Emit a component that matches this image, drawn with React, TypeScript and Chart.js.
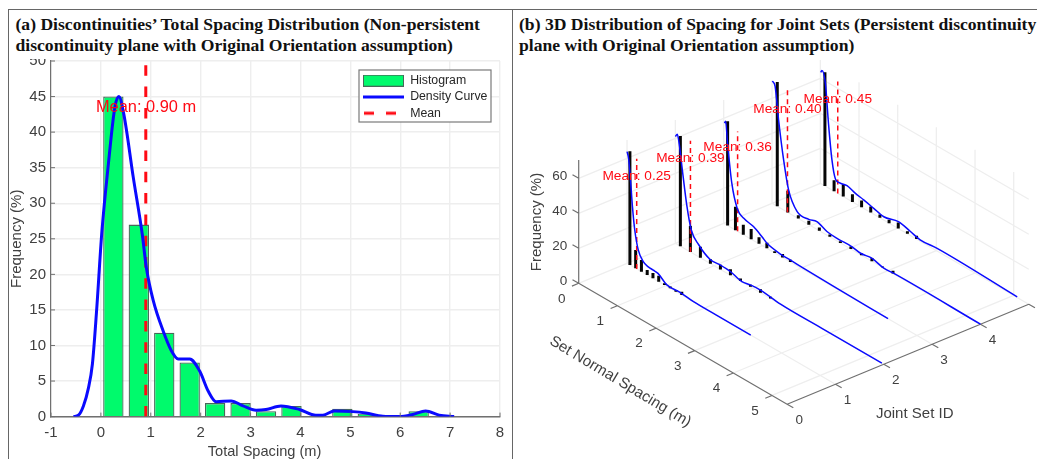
import React, { useEffect, useRef } from "react";
import { Chart, registerables } from "chart.js";

Chart.register(...registerables);

// ---- Panel (a) data ----
const binCenters = [0.25, 0.76, 1.27, 1.78, 2.29, 2.8, 3.31, 3.82, 4.84, 5.35, 6.37];
const binFrequency = [45, 27, 11.8, 7.6, 1.9, 1.9, 0.75, 1.5, 1.1, 0.4, 0.75];
const densityX = [-0.55, -0.45, -0.35, -0.25, -0.17, -0.09, 0.02, 0.15, 0.28, 0.36, 0.46, 0.65, 0.83, 0.91, 1.05, 1.25, 1.41, 1.55, 1.78, 1.98, 2.15, 2.31, 2.61, 2.85, 3.11, 3.31, 3.61, 3.98, 4.31, 4.45, 4.68, 5.05, 5.31, 5.65, 5.98, 6.25, 6.51, 6.78, 7.08];
const densityY = [0, 0.2, 1.5, 4, 7.4, 14.5, 26, 35.5, 43.5, 45, 42.5, 33.6, 25.6, 21, 16.3, 12, 9.3, 8.1, 8.1, 6.4, 3.6, 2.1, 2.2, 1.5, 0.9, 1, 1.5, 1, 0.2, 0.2, 0.8, 0.7, 0.5, 0.05, 0, 0.3, 0.8, 0.2, 0];
const totalMean = 0.9;
const legendLabels = ["Histogram", "Density Curve", "Mean"];

// ---- Panel (b) data ----
const setIds = [1, 2, 3, 4, 5];
const setMeans = [0.25, 0.39, 0.36, 0.4, 0.45];
const setMeanHeights = [63, 63.6, 57, 70, 64];
const setBinWidths = [0.149, 0.259, 0.203, 0.272, 0.237];
const setBars = [
  [65, 10.5, 6.7, 2.9, 3, 3.4, 1, 1, 1, 1.9],
  [63, 15, 6.3, 2.5, 2.7, 3.4, 1.5, 1.2, 1.9, 1],
  [59.6, 13.3, 5.7, 5.9, 3.8, 3.2, 1, 1.9, 1.3],
  [71, 12.4, 1.9, 2.3, 1.9, 1.3, 1, 1.5, 1, 1.9, 0.5, 1.5],
  [65, 6.3, 7, 4.4, 3.8, 3.4, 1.9, 1.9, 3.4, 1.5, 1.9],
];
const curveS = [
  [0, 0.04, 0.09, 0.14, 0.2, 0.29, 0.42, 0.55, 0.68, 0.8, 1.03, 1.37, 1.72, 2.3, 3.2],
  [0, 0.05, 0.1, 0.17, 0.3, 0.41, 0.6, 0.9, 1.16, 1.42, 1.72, 1.94, 2.2, 2.72, 3.8, 5.34],
  [0.02, 0.05, 0.1, 0.21, 0.35, 0.52, 0.77, 0.99, 1.12, 1.5, 1.72, 2.06, 2.93, 4.25],
  [0.01, 0.08, 0.17, 0.3, 0.43, 0.65, 0.95, 1.16, 1.42, 1.68, 2.07, 2.29, 2.58, 2.89, 3.14, 5.39],
  [0.01, 0.04, 0.13, 0.21, 0.3, 0.39, 0.52, 0.69, 0.9, 1.12, 1.38, 1.64, 2.02, 2.33, 2.58, 3.02, 5.09],
];
const curveF = [
  [63.8, 60.5, 48.8, 34.2, 21.6, 11.4, 6.3, 5, 4.8, 4.5, 0.9, 1, 0.1, 0, 0],
  [61, 63, 58, 46, 24.9, 13, 7, 2.3, 2.5, 2.1, 0.2, 1.1, 1.5, 0.1, 0, 0],
  [57.5, 59, 47, 25.6, 13, 9.5, 8, 5, 2.9, 1.2, 1.1, 0.8, 0.4, 0],
  [70, 67.8, 49.8, 28.6, 13, 3.6, 3, 4.4, 2.1, 1.5, 1.7, 0.8, 1.7, 0, 0.3, 0],
  [63.5, 65, 58.9, 37, 17.2, 7.5, 6.7, 7.5, 5.9, 4.9, 3.4, 1.9, 4, 2.3, 0.8, 1.5, 0.3],
];
const freqTicks = [0, 20, 40, 60];
const spacingTicks = [0, 1, 2, 3, 4, 5];
const setTicks = [0, 1, 2, 3, 4, 5];
const setTickLabels = [0, 1, 2, 3, 4];
const freqMax = 70.5;
const spacingMax = 5.39;
const setMax = 5;

const SANS = '"Liberation Sans", Arial, sans-serif';
const GRID = "#eeeeee";
const AXIS = "#707070";
const TEXT = "#404040";
const GREEN = "#00fa6c";
const BAR_EDGE = "#47695a";
const BLUE = "#0a0aff";
const RED = "#ff0a14";

const A_W = 502;
const H = 400;
const B_W = 524;

function swatch(draw: (c: CanvasRenderingContext2D) => void) {
  const cv = document.createElement("canvas");
  cv.width = 41;
  cv.height = 12;
  draw(cv.getContext("2d") as CanvasRenderingContext2D);
  return cv;
}

function buildPanelA(canvas: HTMLCanvasElement) {
  const swatches = [
    swatch((c) => {
      c.fillStyle = GREEN;
      c.fillRect(0, 0, 41, 12);
      c.strokeStyle = BAR_EDGE;
      c.strokeRect(0.5, 0.5, 40, 11);
    }),
    swatch((c) => {
      c.strokeStyle = BLUE;
      c.lineWidth = 3;
      c.beginPath();
      c.moveTo(0, 6);
      c.lineTo(41, 6);
      c.stroke();
    }),
    swatch((c) => {
      c.strokeStyle = RED;
      c.lineWidth = 3;
      c.setLineDash([10, 12]);
      c.beginPath();
      c.moveTo(1, 6);
      c.lineTo(41, 6);
      c.stroke();
    }),
  ];
  const box = { left: 350, top: 11, width: 132, height: 52 };
  const overlay = {
    id: "panelAOverlay",
    afterLayout(chart: any) {
      const l = chart.legend;
      l.left = box.left;
      l.right = box.left + box.width;
      l.top = box.top + 0.5;
      l.bottom = box.top + box.height + 20;
    },
    afterDatasetsDraw(chart: any) {
      const { ctx, scales } = chart;
      const l = chart.legend;
      ctx.save();
      ctx.fillStyle = "#ffffff";
      ctx.fillRect(box.left, box.top, box.width, box.height);
      ctx.strokeStyle = "#7a7a7a";
      ctx.lineWidth = 1.2;
      ctx.strokeRect(box.left, box.top, box.width, box.height);
      ctx.restore();
      l.draw();
      ctx.save();
      ctx.strokeStyle = AXIS;
      ctx.lineWidth = 1;
      ctx.beginPath();
      scales.x.ticks.forEach((t: any) => {
        const px = scales.x.getPixelForValue(t.value);
        ctx.moveTo(px, scales.y.bottom);
        ctx.lineTo(px, scales.y.bottom - 4);
      });
      scales.y.ticks.forEach((t: any) => {
        const py = scales.y.getPixelForValue(t.value);
        ctx.moveTo(scales.x.left, py);
        ctx.lineTo(scales.x.left + 4, py);
      });
      ctx.stroke();
      ctx.fillStyle = RED;
      ctx.font = `16.4px ${SANS}`;
      ctx.textAlign = "left";
      ctx.textBaseline = "middle";
      ctx.fillText(`Mean: ${totalMean.toFixed(2)} m`, scales.x.getPixelForValue(-0.1), scales.y.getPixelForValue(43.4));
      ctx.fillStyle = TEXT;
      ctx.font = `14.6px ${SANS}`;
      ctx.textAlign = "center";
      ctx.fillText("Total Spacing (m)", scales.x.getPixelForValue(3.28), H - 7);
      ctx.restore();
    },
  };
  return new Chart(canvas, {
    type: "bar",
    data: {
      datasets: [
        {
          type: "line",
          label: legendLabels[1],
          data: densityX.map((x, i) => ({ x, y: densityY[i] })),
          borderColor: BLUE,
          borderWidth: 3,
          pointRadius: 0,
          cubicInterpolationMode: "monotone",
          order: 0,
        },
        {
          type: "line",
          label: legendLabels[2],
          data: [
            { x: totalMean, y: 0 },
            { x: totalMean, y: 49.5 },
          ],
          borderColor: RED,
          borderWidth: 3,
          borderDash: [10.5, 10.8],
          pointRadius: 0,
          order: 1,
        },
        {
          type: "bar",
          label: legendLabels[0],
          data: binCenters.map((x, i) => ({ x, y: binFrequency[i] })),
          backgroundColor: GREEN,
          borderColor: BAR_EDGE,
          borderWidth: 1.3,
          barPercentage: 0.8,
          categoryPercentage: 1,
          order: 2,
        },
      ],
    } as any,
    options: {
      responsive: false,
      animation: false,
      events: [],
      layout: { padding: { top: 2, right: 11, left: 0, bottom: 0 } },
      plugins: {
        tooltip: { enabled: false },
        legend: {
          position: "chartArea",
          align: "start",
          labels: {
            usePointStyle: true,
            pointStyleWidth: 41,
            boxHeight: 12,
            padding: 4,
            color: "#262626",
            font: { family: SANS, size: 12.3 },
            generateLabels: () =>
              legendLabels.map((text, i) => ({
                text,
                pointStyle: swatches[i],
                fontColor: "#262626",
                hidden: false,
                datasetIndex: i,
              })),
          },
        } as any,
      },
      scales: {
        x: {
          type: "linear",
          offset: false,
          min: -1,
          max: 8,
          grid: { color: GRID, lineWidth: 1.4, drawTicks: false, offset: false },
          border: { color: AXIS, width: 1.4 },
          ticks: { stepSize: 1, padding: 7.5, color: TEXT, font: { family: SANS, size: 15 }, maxRotation: 0 },
          afterFit(s: any) {
            s.height = 42.4;
            s.paddingLeft = 0;
            s.paddingRight = 0;
          },
        },
        y: {
          min: 0,
          max: 50,
          grid: { color: GRID, lineWidth: 1.4, drawTicks: false },
          border: { color: AXIS, width: 1.2 },
          ticks: { stepSize: 5, padding: 5, color: TEXT, font: { family: SANS, size: 15 } },
          title: { display: true, text: "Frequency (%)", color: TEXT, font: { family: SANS, size: 15, lineHeight: 1 }, padding: 0 },
          afterFit(s: any) {
            s.width = 42;
            s.paddingTop = 0;
            s.paddingBottom = 0;
          },
        },
      },
    } as any,
    plugins: [overlay],
  });
}

// Orthographic view of (set id, spacing, frequency) into the hidden x/y scales.
const view = { ox: 65.7, oy: 224.3, sx: 38.67, sy: 22.43, jx: 48.33, jy: -20, fy: 1.75 };
function project(j: number, s: number, f: number) {
  return { x: view.ox + view.sx * s + view.jx * j, y: view.oy + view.sy * s + view.jy * j - view.fy * f };
}
const GAP = { x: NaN, y: NaN };

function gridSegments() {
  const pts: any[] = [];
  const seg = (a: number[], b: number[]) => {
    pts.push(project(a[0], a[1], a[2]), project(b[0], b[1], b[2]), GAP);
  };
  freqTicks.forEach((f) => {
    seg([0, 0, f], [setMax, 0, f]);
    seg([setMax, 0, f], [setMax, spacingMax, f]);
  });
  setTicks.forEach((j) => {
    if (j > 0) {
      seg([j, 0, 0], [j, 0, freqMax]);
      seg([j, 0, 0], [j, spacingMax, 0]);
    }
  });
  spacingTicks.forEach((s) => {
    if (s > 0) {
      seg([0, s, 0], [setMax, s, 0]);
      seg([setMax, s, 0], [setMax, s, freqMax]);
    }
  });
  return pts;
}

function axisSegments() {
  const pts: any[] = [];
  const seg = (a: number[], b: number[]) => {
    pts.push(project(a[0], a[1], a[2]), project(b[0], b[1], b[2]), GAP);
  };
  seg([0, 0, 0], [0, 0, freqMax]);
  seg([0, 0, 0], [0, spacingMax, 0]);
  seg([0, spacingMax, 0], [setMax, spacingMax, 0]);
  freqTicks.forEach((f) => seg([0, 0, f], [0, -0.16, f]));
  spacingTicks.forEach((s) => seg([0, s, 0], [-0.14, s, 0]));
  setTicks.forEach((j) => seg([j, spacingMax, 0], [j, spacingMax + 0.16, 0]));
  return pts;
}

function buildPanelB(canvas: HTMLCanvasElement) {
  const datasets: any[] = [];
  setIds.forEach((j, i) => {
    datasets.push({
      label: `Density Set ${j}`,
      data: curveS[i].map((s, k) => project(j, s, curveF[i][k])),
      borderColor: BLUE,
      borderWidth: 1.5,
      pointRadius: 0,
      showLine: true,
      cubicInterpolationMode: "monotone",
      order: 10 - j,
    });
  });
  setIds.forEach((j, i) => {
    datasets.push({
      label: `Mean Set ${j}`,
      data: [project(j, setMeans[i], 0), project(j, setMeans[i], setMeanHeights[i])],
      borderColor: RED,
      borderWidth: 1.5,
      borderDash: [5, 4],
      pointRadius: 0,
      showLine: true,
      order: 30 - j,
    });
  });
  setIds.forEach((j, i) => {
    const pts: any[] = [];
    setBars[i].forEach((h, k) => {
      const s = setBinWidths[i] * (k + 0.5);
      pts.push(project(j, s, 0), project(j, s, h), GAP);
    });
    datasets.push({
      label: `Histogram Set ${j}`,
      data: pts,
      borderColor: "#050505",
      borderWidth: 3,
      pointRadius: 0,
      showLine: true,
      spanGaps: false,
      order: 50 - j,
    });
  });
  datasets.push({
    label: "Axes",
    data: axisSegments(),
    borderColor: AXIS,
    borderWidth: 1.2,
    pointRadius: 0,
    showLine: true,
    spanGaps: false,
    order: 90,
  });
  datasets.push({
    label: "Grid",
    data: gridSegments(),
    borderColor: GRID,
    borderWidth: 1.3,
    pointRadius: 0,
    showLine: true,
    spanGaps: false,
    order: 100,
  });

  const overlay = {
    id: "panelBOverlay",
    afterDatasetsDraw(chart: any) {
      const { ctx, scales } = chart;
      const at = (j: number, s: number, f: number) => {
        const p = project(j, s, f);
        return { x: scales.x.getPixelForValue(p.x), y: scales.y.getPixelForValue(p.y) };
      };
      ctx.save();
      ctx.textBaseline = "middle";
      ctx.textAlign = "center";
      ctx.fillStyle = RED;
      ctx.font = `13.7px ${SANS}`;
      setIds.forEach((j, i) => {
        const p = at(j, setMeans[i], setMeanHeights[i] * 0.84);
        ctx.fillText(`Mean: ${setMeans[i].toFixed(2)}`, p.x, p.y);
      });
      ctx.fillStyle = TEXT;
      ctx.font = `13.5px ${SANS}`;
      freqTicks.forEach((f) => {
        const p = at(0, 0, f);
        ctx.textAlign = "right";
        ctx.fillText(String(f), p.x - 11.5, p.y - 2.5);
      });
      ctx.textAlign = "center";
      spacingTicks.forEach((s) => {
        const p = at(0, s, 0);
        ctx.fillText(String(s), p.x - 17, p.y + 15.5);
      });
      setTickLabels.forEach((j) => {
        const p = at(j, spacingMax, 0);
        ctx.fillText(String(j), p.x + 12, p.y + 16);
      });
      ctx.font = `15px ${SANS}`;
      ctx.fillText("Joint Set ID", 914.7 - 513, 413.5 - 59);
      ctx.save();
      ctx.translate(537 - 513, 222 - 59);
      ctx.rotate(-Math.PI / 2);
      ctx.fillText("Frequency (%)", 0, 0);
      ctx.restore();
      ctx.save();
      ctx.translate(620.3 - 513, 381.7 - 59);
      ctx.rotate((31 * Math.PI) / 180);
      ctx.font = `15.2px ${SANS}`;
      ctx.fillText("Set Normal Spacing (m)", 0, 0);
      ctx.restore();
      ctx.restore();
    },
  };

  return new Chart(canvas, {
    type: "scatter",
    data: { datasets },
    options: {
      responsive: false,
      animation: false,
      events: [],
      layout: { padding: 0 },
      plugins: { legend: { display: false }, tooltip: { enabled: false } },
      scales: {
        x: { type: "linear", min: 0, max: B_W, display: false },
        y: { type: "linear", min: 0, max: H, reverse: true, display: false },
      },
    } as any,
    plugins: [overlay],
  });
}

const titleStyle: React.CSSProperties = {
  position: "absolute",
  whiteSpace: "nowrap",
  fontFamily: '"Liberation Serif", "Times New Roman", serif',
  fontWeight: "bold",
  fontSize: 17.6,
  lineHeight: "21px",
  color: "#111",
};
const rule = (l: number, t: number, w: number, h: number): React.CSSProperties => ({
  position: "absolute",
  left: l,
  top: t,
  width: w,
  height: h,
  background: "#666",
});

export default function App() {
  const a = useRef<HTMLCanvasElement>(null);
  const b = useRef<HTMLCanvasElement>(null);
  useEffect(() => {
    const ca = buildPanelA(a.current as HTMLCanvasElement);
    const cb = buildPanelB(b.current as HTMLCanvasElement);
    return () => {
      ca.destroy();
      cb.destroy();
    };
  }, []);
  return (
    <div style={{ position: "fixed", left: 0, top: 0, width: 1037, height: 459, overflow: "hidden", background: "#fff", filter: "blur(0.45px)" }}>
      <canvas ref={a} width={A_W} height={H} style={{ position: "absolute", left: 9, top: 59, width: A_W, height: H }} />
      <canvas ref={b} width={B_W} height={H} style={{ position: "absolute", left: 513, top: 59, width: B_W, height: H }} />
      <div style={{ ...titleStyle, left: 15.5, top: 14 }}>
        (a) Discontinuities’ Total Spacing Distribution (Non-persistent
        <br />
        discontinuity plane with Original Orientation assumption)
      </div>
      <div style={{ ...titleStyle, left: 519, top: 14 }}>
        (b) 3D Distribution of Spacing for Joint Sets (Persistent discontinuity
        <br />
        plane with Original Orientation assumption)
      </div>
      <div style={rule(8, 9, 1029, 1.4)} />
      <div style={rule(8, 9, 1.4, 450)} />
      <div style={rule(511.5, 9, 1.4, 450)} />
    </div>
  );
}
